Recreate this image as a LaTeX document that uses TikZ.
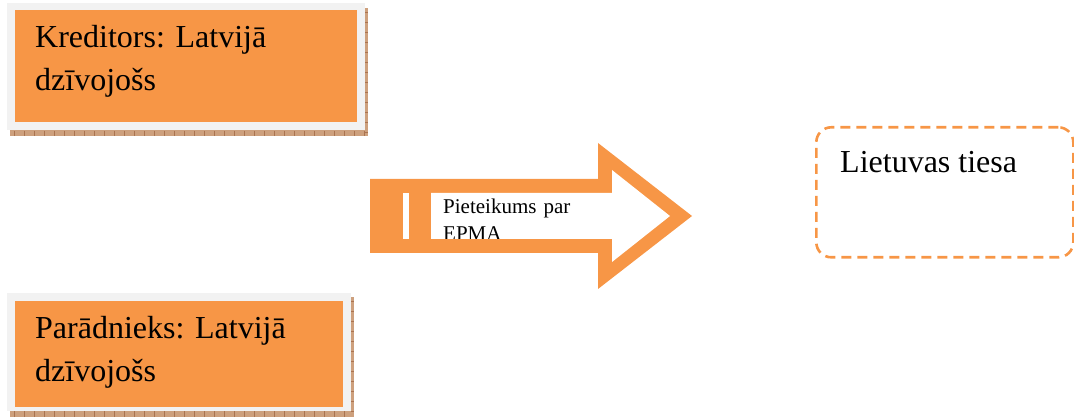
\documentclass[tikz,border=0pt]{standalone}
\usepackage{fontspec}
\setmainfont{Liberation Serif}
\frenchspacing
\definecolor{accent}{HTML}{F79646}
\definecolor{framegrey}{HTML}{F2F2F2}
\definecolor{shadowbrown}{RGB}{205,160,125}
\definecolor{shadowline}{RGB}{170,115,80}
\tikzset{
  px/.style={x=1pt,y=-1pt},
  shadowbox/.style={fill=shadowbrown, draw=none},
  framebox/.style={fill=framegrey, draw=none},
  orangebox/.style={fill=accent, draw=none},
  boxtext/.style={inner sep=0pt, align=left, text width=320pt,
    font=\fontsize{32}{43}\selectfont},
  arrowtext/.style={inner sep=0pt, align=left, text width=170pt,
    font=\fontsize{21}{27}\selectfont},
  courtbox/.style={draw=accent, line width=2.6pt, rounded corners=15pt,
    dash pattern=on 10pt off 6pt},
}
\begin{document}
\begin{tikzpicture}[px]
\useasboundingbox (0,0) rectangle (1074,419);

% creditor box: textured shadow, grey frame, orange panel
\fill[shadowbox] (10,8) rectangle (368,136);
\foreach \xx in {14,24,...,364} \draw[shadowline, line width=0.6pt] (\xx,131) -- (\xx,136);
\foreach \yy in {12,22,...,132} \draw[shadowline, line width=0.6pt] (365,\yy) -- (368,\yy);
\fill[framebox] (7,3) rectangle (365,130);
\node[orangebox, anchor=north west, minimum width=342pt, minimum height=112pt, inner sep=0pt] (kred) at (15,10) {};
\node[boxtext, anchor=base west] (kredtxt) at (35,48) {Kreditors: Latvijā\\dzīvojošs};

% debtor box
\fill[shadowbox] (10,297) rectangle (354,417);
\foreach \xx in {14,24,...,350} \draw[shadowline, line width=0.6pt] (\xx,411) -- (\xx,417);
\foreach \yy in {301,311,...,411} \draw[shadowline, line width=0.6pt] (351,\yy) -- (354,\yy);
\fill[framebox] (7,293) rectangle (351,411);
\node[orangebox, anchor=north west, minimum width=328pt, minimum height=106pt, inner sep=0pt] (deb) at (15,301) {};
\node[boxtext, anchor=base west] (debtxt) at (35,339) {Parādnieks: Latvijā\\dzīvojošs};

% outlined block arrow
\coordinate (arrowtail) at (370,216);
\coordinate (arrowtip) at (692,216);
\fill[accent] (370,179) -- (598,179) -- (598,143) -- (arrowtip) -- (598,289) -- (598,253) -- (370,253) -- cycle;
\fill[white] (431,193) -- (612,193) -- (612,170) -- (670,216) -- (612,262) -- (612,239) -- (431,239) -- cycle;
\fill[white] (403,193) rectangle (409,239);
\begin{scope}
  \clip (431,193) rectangle (612,239);
  \node[arrowtext, anchor=base west] (request) at (443,214) {Pieteikums par\\EPMA};
\end{scope}

% court box
\node[courtbox, anchor=north west, minimum width=257pt, minimum height=130pt, inner sep=0pt] (court) at (815,126) {};
\node[inner sep=0pt, anchor=base west, font=\fontsize{32}{43}\selectfont] (courttxt) at (840,173) {Lietuvas tiesa};
\end{tikzpicture}
\end{document}
